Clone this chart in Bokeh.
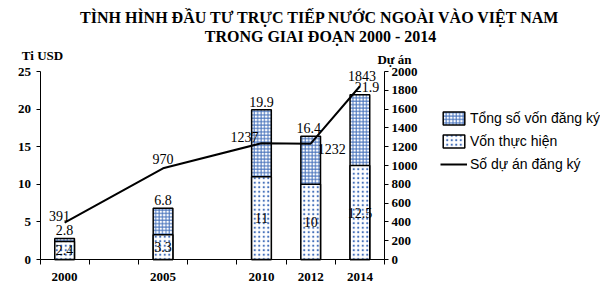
from bokeh.plotting import figure
from bokeh.models import (Range1d, LinearAxis, FixedTicker, Label, Legend,
                          LegendItem, ColumnDataSource, LabelSet)
from bokeh.embed import file_html
from bokeh.resources import INLINE

# ---------------- data ----------------
title_lines = ["TÌNH HÌNH ĐẦU TƯ TRỰC TIẾP NƯỚC NGOÀI VÀO VIỆT NAM",
               "TRONG GIAI ĐOẠN 2000 - 2014"]
slots = ["2000", "", "2005", "", "2010", "2012", "2014"]   # x-axis slots (blank = gap)
years = ["2000", "2005", "2010", "2012", "2014"]
registered = [2.8, 6.8, 19.9, 16.4, 21.9]     # Tổng số vốn đăng ký (tỉ USD)
realized = [2.4, 3.3, 11, 10, 12.5]           # Vốn thực hiện (tỉ USD)
projects = [391, 970, 1237, 1232, 1843]       # Số dự án đăng ký
left_ticks = [0, 5, 10, 15, 20, 25]
right_ticks = [0, 200, 400, 600, 800, 1000, 1200, 1400, 1600, 1800, 2000]
left_unit = "Ti USD"
right_unit = "Dự án"
legend_labels = ["Tổng số vốn đăng ký", "Vốn thực hiện", "Số dự án đăng ký"]

# ---------------- layout / styles ----------------
W, H = 600, 283
X0_PX, X1_PX = 39.5, 384.0      # pixel position of the slot area (left/right axes)
Y0_PX, Y1_PX = 259.0, 71.0      # pixel position (from top) of axis 0 and axis max
reg_xoff = [0, 0, 0, -2, 7]
proj_xoff = [-5, 0, -17, 21, 2]
proj_yoff = [2, 4, 1, -10, 5]
HATCH_BLUE = "#4470ba"
SERIF = "Liberation Serif"
SANS = "Liberation Sans"
VAL_SIZE = "14px"

n = len(slots)
xs = (X1_PX - X0_PX) / n
ly = (Y0_PX - Y1_PX) / left_ticks[-1]
ry = (Y0_PX - Y1_PX) / right_ticks[-1]
x_range = Range1d(-X0_PX / xs, n + (W - X1_PX) / xs)
y_range = Range1d(-(H - Y0_PX) / ly, left_ticks[-1] + Y1_PX / ly)
r_range = Range1d(-(H - Y0_PX) / ry, right_ticks[-1] + Y1_PX / ry)

xpos = [slots.index(y) + 0.5 for y in years]
src = ColumnDataSource(dict(
    x=xpos, reg=registered, real=realized, proj=projects,
    reg_txt=[f"{v:g}" for v in registered],
    real_txt=[f"{v:g}" for v in realized],
    proj_txt=[str(v) for v in projects],
    real_mid=[v / 2 for v in realized],
    reg_xoff=reg_xoff, proj_xoff=proj_xoff, proj_yoff=proj_yoff,
))

p = figure(width=W, height=H, output_backend="svg", toolbar_location=None,
           x_range=x_range, y_range=y_range, min_border=0,
           x_axis_type=None, y_axis_type=None)
p.outline_line_color = None
p.grid.visible = False
p.extra_y_ranges = {"proj": r_range}


def style_axis(ax):
    ax.major_label_text_font = SERIF
    ax.major_label_text_font_style = "bold"
    ax.major_label_text_font_size = "13px"
    ax.major_label_text_color = "black"
    ax.axis_line_color = "black"
    ax.major_tick_line_color = "black"


# x axis: labels at slot centres, tick marks at slot borders
xaxis = LinearAxis(ticker=FixedTicker(ticks=xpos, minor_ticks=list(range(n + 1))),
                   fixed_location=0, bounds=(0, n))
style_axis(xaxis)
xaxis.major_label_overrides = {x: y for x, y in zip(xpos, years)}
xaxis.major_tick_line_color = None
xaxis.major_tick_out = 0
xaxis.major_tick_in = 0
xaxis.minor_tick_out = 5
xaxis.minor_tick_in = 0
xaxis.minor_tick_line_color = "black"
xaxis.major_label_standoff = 8
p.add_layout(xaxis, "below")

yl = LinearAxis(ticker=FixedTicker(ticks=left_ticks, minor_ticks=[]),
                fixed_location=0, bounds=(left_ticks[0], left_ticks[-1]))
style_axis(yl)
yl.major_tick_out = 4
yl.major_tick_in = 0
yl.major_label_standoff = 5
p.add_layout(yl, "left")

yr = LinearAxis(y_range_name="proj", ticker=FixedTicker(ticks=right_ticks, minor_ticks=[]),
                fixed_location=n, bounds=(right_ticks[0], right_ticks[-1]))
style_axis(yr)
yr.major_tick_out = 4
yr.major_tick_in = 0
yr.major_label_standoff = 3
p.add_layout(yr, "right")

# bars
r_reg = p.vbar(x="x", top="reg", bottom=0, width=0.4, source=src,
               fill_color="white", line_color="black", line_width=1.5,
               hatch_pattern="cross", hatch_color=HATCH_BLUE, hatch_scale=3.4,
               hatch_weight=1)
r_real = p.vbar(x="x", top="real", bottom=0, width=0.4, source=src,
                fill_color="white", line_color="black", line_width=1.5,
                hatch_pattern="dot", hatch_color=HATCH_BLUE, hatch_scale=4.5,
                hatch_weight=1)
r_line = p.line(x="x", y="proj", source=src, y_range_name="proj",
                line_color="black", line_width=2)

p.add_layout(LabelSet(x="x", y="reg", text="reg_txt", source=src,
                      x_offset="reg_xoff", y_offset=3, text_align="center",
                      text_baseline="alphabetic", text_font=SERIF,
                      text_font_size=VAL_SIZE, text_color="black"))
p.add_layout(LabelSet(x="x", y="real_mid", text="real_txt", source=src,
                      text_align="center", text_baseline="middle", text_font=SERIF,
                      text_font_size=VAL_SIZE, text_color="black"))
p.add_layout(LabelSet(x="x", y="proj", text="proj_txt", source=src,
                      y_range_name="proj", x_offset="proj_xoff", y_offset="proj_yoff",
                      text_align="center", text_baseline="alphabetic",
                      text_font=SERIF, text_font_size=VAL_SIZE, text_color="black"))

# titles / units (screen units: from bottom-left of the canvas-sized frame)
for i, t in enumerate(title_lines):
    p.add_layout(Label(x=320, y=H - 17 - 19 * i, x_units="screen", y_units="screen",
                       text=t, text_align="center", text_baseline="middle",
                       text_font=SERIF, text_font_style="bold",
                       text_font_size="16px", text_color="black"))
p.add_layout(Label(x=42, y=H - 55, x_units="screen", y_units="screen", text=left_unit,
                   text_align="center", text_baseline="middle", text_font=SERIF,
                   text_font_style="bold", text_font_size="13px", text_color="black"))
p.add_layout(Label(x=394, y=H - 59, x_units="screen", y_units="screen", text=right_unit,
                   text_align="center", text_baseline="middle", text_font=SERIF,
                   text_font_style="bold", text_font_size="13px", text_color="black"))

legend = Legend(items=[LegendItem(label=legend_labels[0], renderers=[r_reg]),
                       LegendItem(label=legend_labels[1], renderers=[r_real]),
                       LegendItem(label=legend_labels[2], renderers=[r_line])],
                location=(440, H - 172), glyph_width=27, glyph_height=16,
                label_standoff=3, spacing=7, padding=0, margin=0,
                border_line_color=None, background_fill_alpha=0,
                label_text_font=SANS, label_text_font_size="14px",
                label_text_color="black")
p.add_layout(legend)

open("out.html", "w").write(file_html(p, INLINE))
